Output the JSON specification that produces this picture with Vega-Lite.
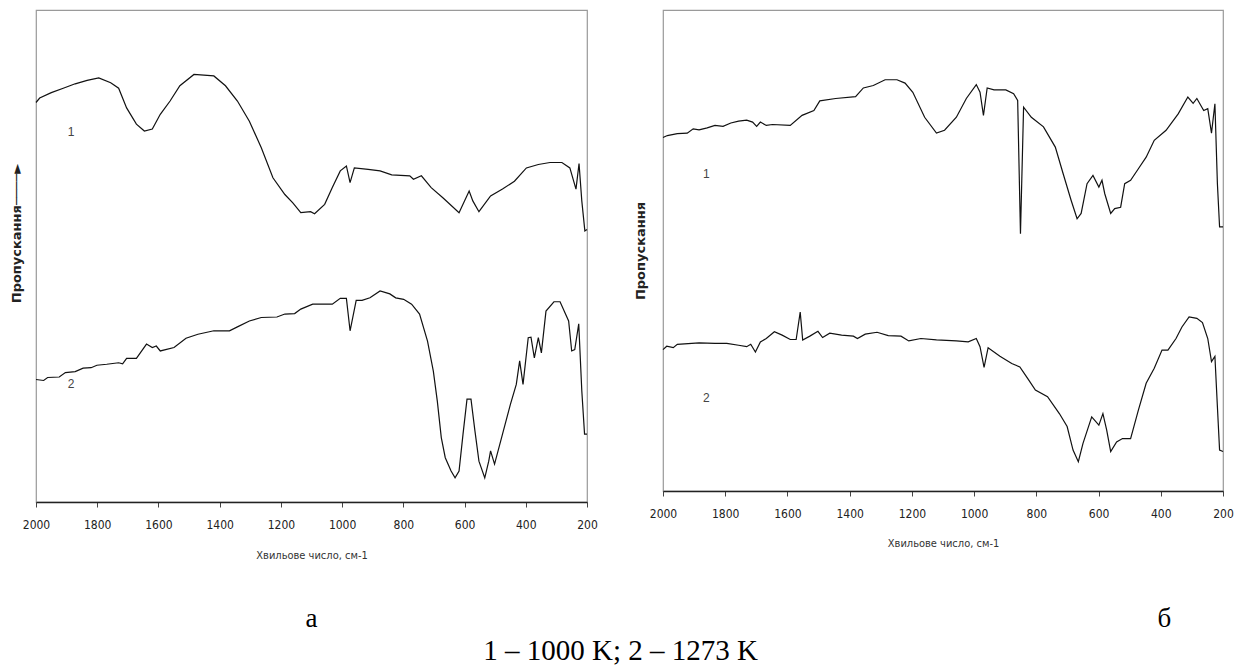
{
  "$schema": "https://vega.github.io/schema/vega-lite/v6.json",
  "background": "white",
  "padding": {"left": 9, "top": 9, "right": 10, "bottom": 2},
  "bounds": "flush",
  "spacing": 76,
  "config": {
    "view": {"stroke": "#9a9a9a", "strokeWidth": 1.2},
    "title": {"font": "Liberation Serif", "fontWeight": "normal", "color": "#000"}
  },
  "title": {"text": "1 – 1000 K; 2 – 1273 K", "orient": "bottom", "anchor": "middle", "fontSize": 29, "offset": 4, "dx": -1},
  "datasets": {
    "a": [
      {"c":"1","w":2000,"t":81.2},{"c":"1","w":1988,"t":82.1},{"c":"1","w":1950,"t":83.2},{"c":"1","w":1911,"t":84.1},{"c":"1","w":1872,"t":85.0},{"c":"1","w":1833,"t":85.7},{"c":"1","w":1795,"t":86.2},{"c":"1","w":1756,"t":85.2},{"c":"1","w":1730,"t":84.1},{"c":"1","w":1704,"t":80.1},{"c":"1","w":1672,"t":76.8},{"c":"1","w":1646,"t":75.4},{"c":"1","w":1620,"t":75.8},{"c":"1","w":1594,"t":78.8},{"c":"1","w":1562,"t":81.5},{"c":"1","w":1530,"t":84.6},{"c":"1","w":1484,"t":86.9},{"c":"1","w":1419,"t":86.6},{"c":"1","w":1381,"t":84.6},{"c":"1","w":1342,"t":81.5},{"c":"1","w":1303,"t":77.4},{"c":"1","w":1264,"t":72.0},{"c":"1","w":1226,"t":65.9},{"c":"1","w":1187,"t":62.5},{"c":"1","w":1161,"t":60.8},{"c":"1","w":1135,"t":58.8},{"c":"1","w":1103,"t":59.0},{"c":"1","w":1090,"t":58.6},{"c":"1","w":1057,"t":60.5},{"c":"1","w":1032,"t":63.9},{"c":"1","w":1006,"t":67.3},{"c":"1","w":986,"t":68.3},{"c":"1","w":974,"t":64.9},{"c":"1","w":960,"t":67.9},{"c":"1","w":915,"t":67.6},{"c":"1","w":876,"t":67.3},{"c":"1","w":838,"t":66.5},{"c":"1","w":779,"t":66.3},{"c":"1","w":767,"t":65.6},{"c":"1","w":741,"t":66.3},{"c":"1","w":709,"t":63.9},{"c":"1","w":670,"t":61.8},{"c":"1","w":618,"t":58.8},{"c":"1","w":585,"t":63.2},{"c":"1","w":573,"t":61.2},{"c":"1","w":553,"t":59.0},{"c":"1","w":515,"t":62.2},{"c":"1","w":476,"t":63.6},{"c":"1","w":437,"t":65.2},{"c":"1","w":398,"t":67.9},{"c":"1","w":359,"t":68.6},{"c":"1","w":321,"t":69.0},{"c":"1","w":282,"t":69.0},{"c":"1","w":256,"t":67.9},{"c":"1","w":236,"t":63.6},{"c":"1","w":226,"t":68.8},{"c":"1","w":217,"t":61.2},{"c":"1","w":207,"t":55.1},{"c":"1","w":200,"t":55.4},
      {"c":"2","w":2000,"t":24.9},{"c":"2","w":1975,"t":24.7},{"c":"2","w":1962,"t":25.3},{"c":"2","w":1924,"t":25.4},{"c":"2","w":1904,"t":26.3},{"c":"2","w":1872,"t":26.5},{"c":"2","w":1846,"t":27.2},{"c":"2","w":1820,"t":27.3},{"c":"2","w":1801,"t":27.8},{"c":"2","w":1769,"t":28.0},{"c":"2","w":1730,"t":28.3},{"c":"2","w":1717,"t":28.1},{"c":"2","w":1704,"t":29.2},{"c":"2","w":1672,"t":29.2},{"c":"2","w":1639,"t":32.1},{"c":"2","w":1620,"t":31.4},{"c":"2","w":1607,"t":31.7},{"c":"2","w":1594,"t":30.7},{"c":"2","w":1549,"t":31.4},{"c":"2","w":1510,"t":33.3},{"c":"2","w":1471,"t":34.1},{"c":"2","w":1419,"t":34.8},{"c":"2","w":1368,"t":34.8},{"c":"2","w":1342,"t":35.6},{"c":"2","w":1303,"t":36.8},{"c":"2","w":1264,"t":37.5},{"c":"2","w":1213,"t":37.6},{"c":"2","w":1187,"t":38.2},{"c":"2","w":1155,"t":38.3},{"c":"2","w":1135,"t":39.2},{"c":"2","w":1096,"t":40.2},{"c":"2","w":1032,"t":40.2},{"c":"2","w":1006,"t":41.4},{"c":"2","w":986,"t":41.4},{"c":"2","w":974,"t":34.8},{"c":"2","w":954,"t":41.0},{"c":"2","w":935,"t":41.0},{"c":"2","w":909,"t":41.5},{"c":"2","w":876,"t":42.9},{"c":"2","w":844,"t":42.3},{"c":"2","w":825,"t":41.5},{"c":"2","w":799,"t":41.2},{"c":"2","w":773,"t":40.2},{"c":"2","w":747,"t":38.2},{"c":"2","w":721,"t":32.7},{"c":"2","w":702,"t":26.6},{"c":"2","w":689,"t":20.5},{"c":"2","w":676,"t":13.1},{"c":"2","w":663,"t":9.0},{"c":"2","w":644,"t":6.3},{"c":"2","w":631,"t":4.9},{"c":"2","w":618,"t":6.3},{"c":"2","w":605,"t":13.8},{"c":"2","w":592,"t":20.9},{"c":"2","w":579,"t":20.9},{"c":"2","w":566,"t":14.4},{"c":"2","w":553,"t":8.3},{"c":"2","w":534,"t":4.9},{"c":"2","w":521,"t":8.3},{"c":"2","w":515,"t":10.4},{"c":"2","w":502,"t":7.7},{"c":"2","w":476,"t":13.8},{"c":"2","w":450,"t":19.9},{"c":"2","w":431,"t":23.9},{"c":"2","w":420,"t":28.7},{"c":"2","w":409,"t":23.9},{"c":"2","w":392,"t":33.4},{"c":"2","w":383,"t":33.5},{"c":"2","w":372,"t":29.3},{"c":"2","w":359,"t":33.4},{"c":"2","w":349,"t":30.3},{"c":"2","w":334,"t":38.8},{"c":"2","w":308,"t":40.7},{"c":"2","w":288,"t":40.7},{"c":"2","w":260,"t":36.8},{"c":"2","w":250,"t":30.7},{"c":"2","w":240,"t":31.0},{"c":"2","w":227,"t":36.2},{"c":"2","w":217,"t":22.6},{"c":"2","w":208,"t":13.8},{"c":"2","w":200,"t":13.8}
    ],
    "b": [
      {"c":"1","w":2000,"t":73.5},{"c":"1","w":1986,"t":73.9},{"c":"1","w":1954,"t":74.3},{"c":"1","w":1922,"t":74.4},{"c":"1","w":1903,"t":75.3},{"c":"1","w":1884,"t":75.1},{"c":"1","w":1858,"t":75.5},{"c":"1","w":1833,"t":76.0},{"c":"1","w":1807,"t":75.8},{"c":"1","w":1782,"t":76.5},{"c":"1","w":1757,"t":76.9},{"c":"1","w":1731,"t":77.1},{"c":"1","w":1712,"t":76.7},{"c":"1","w":1699,"t":75.8},{"c":"1","w":1687,"t":76.7},{"c":"1","w":1668,"t":76.0},{"c":"1","w":1648,"t":76.2},{"c":"1","w":1591,"t":76.0},{"c":"1","w":1553,"t":78.1},{"c":"1","w":1515,"t":79.1},{"c":"1","w":1496,"t":81.1},{"c":"1","w":1445,"t":81.6},{"c":"1","w":1381,"t":82.0},{"c":"1","w":1356,"t":83.8},{"c":"1","w":1324,"t":84.3},{"c":"1","w":1286,"t":85.5},{"c":"1","w":1248,"t":85.5},{"c":"1","w":1222,"t":84.8},{"c":"1","w":1197,"t":82.9},{"c":"1","w":1159,"t":77.7},{"c":"1","w":1121,"t":74.4},{"c":"1","w":1095,"t":75.0},{"c":"1","w":1057,"t":77.7},{"c":"1","w":1025,"t":81.6},{"c":"1","w":993,"t":84.5},{"c":"1","w":981,"t":82.9},{"c":"1","w":970,"t":78.1},{"c":"1","w":958,"t":83.8},{"c":"1","w":936,"t":83.4},{"c":"1","w":898,"t":83.4},{"c":"1","w":873,"t":82.6},{"c":"1","w":860,"t":81.2},{"c":"1","w":851,"t":53.5},{"c":"1","w":841,"t":79.8},{"c":"1","w":816,"t":77.7},{"c":"1","w":777,"t":75.7},{"c":"1","w":739,"t":71.5},{"c":"1","w":714,"t":66.0},{"c":"1","w":688,"t":60.4},{"c":"1","w":669,"t":56.6},{"c":"1","w":656,"t":57.7},{"c":"1","w":637,"t":63.9},{"c":"1","w":618,"t":65.6},{"c":"1","w":599,"t":63.2},{"c":"1","w":589,"t":64.6},{"c":"1","w":580,"t":61.8},{"c":"1","w":561,"t":57.7},{"c":"1","w":548,"t":58.7},{"c":"1","w":529,"t":59.0},{"c":"1","w":516,"t":63.9},{"c":"1","w":497,"t":64.6},{"c":"1","w":472,"t":67.0},{"c":"1","w":447,"t":69.4},{"c":"1","w":421,"t":72.9},{"c":"1","w":383,"t":75.0},{"c":"1","w":344,"t":78.4},{"c":"1","w":313,"t":81.9},{"c":"1","w":296,"t":80.6},{"c":"1","w":284,"t":81.6},{"c":"1","w":262,"t":79.1},{"c":"1","w":249,"t":79.5},{"c":"1","w":237,"t":74.4},{"c":"1","w":226,"t":80.5},{"c":"1","w":218,"t":63.9},{"c":"1","w":211,"t":54.9},{"c":"1","w":200,"t":54.9},
      {"c":"2","w":2000,"t":29.4},{"c":"2","w":1988,"t":30.1},{"c":"2","w":1967,"t":29.8},{"c":"2","w":1954,"t":30.5},{"c":"2","w":1884,"t":30.8},{"c":"2","w":1833,"t":30.7},{"c":"2","w":1795,"t":30.7},{"c":"2","w":1757,"t":30.3},{"c":"2","w":1731,"t":30.0},{"c":"2","w":1718,"t":30.5},{"c":"2","w":1703,"t":28.9},{"c":"2","w":1687,"t":31.0},{"c":"2","w":1668,"t":31.7},{"c":"2","w":1642,"t":33.1},{"c":"2","w":1617,"t":32.4},{"c":"2","w":1591,"t":31.5},{"c":"2","w":1572,"t":31.5},{"c":"2","w":1559,"t":37.2},{"c":"2","w":1551,"t":31.4},{"c":"2","w":1528,"t":32.2},{"c":"2","w":1502,"t":33.2},{"c":"2","w":1487,"t":31.9},{"c":"2","w":1464,"t":32.8},{"c":"2","w":1426,"t":32.4},{"c":"2","w":1388,"t":32.2},{"c":"2","w":1375,"t":31.7},{"c":"2","w":1350,"t":32.6},{"c":"2","w":1312,"t":33.0},{"c":"2","w":1276,"t":32.3},{"c":"2","w":1235,"t":32.2},{"c":"2","w":1210,"t":31.2},{"c":"2","w":1171,"t":31.7},{"c":"2","w":1121,"t":31.4},{"c":"2","w":1057,"t":31.2},{"c":"2","w":1019,"t":31.0},{"c":"2","w":993,"t":31.7},{"c":"2","w":981,"t":30.0},{"c":"2","w":968,"t":25.7},{"c":"2","w":955,"t":29.8},{"c":"2","w":917,"t":28.0},{"c":"2","w":879,"t":26.5},{"c":"2","w":853,"t":25.8},{"c":"2","w":828,"t":23.4},{"c":"2","w":803,"t":21.0},{"c":"2","w":764,"t":19.6},{"c":"2","w":726,"t":16.1},{"c":"2","w":701,"t":13.4},{"c":"2","w":682,"t":8.5},{"c":"2","w":665,"t":6.1},{"c":"2","w":650,"t":9.9},{"c":"2","w":622,"t":15.4},{"c":"2","w":599,"t":13.7},{"c":"2","w":586,"t":16.1},{"c":"2","w":574,"t":12.7},{"c":"2","w":561,"t":8.2},{"c":"2","w":542,"t":10.2},{"c":"2","w":523,"t":10.9},{"c":"2","w":497,"t":10.9},{"c":"2","w":472,"t":16.8},{"c":"2","w":447,"t":22.4},{"c":"2","w":421,"t":25.5},{"c":"2","w":396,"t":29.3},{"c":"2","w":377,"t":29.3},{"c":"2","w":351,"t":31.7},{"c":"2","w":332,"t":34.1},{"c":"2","w":309,"t":36.2},{"c":"2","w":284,"t":35.9},{"c":"2","w":266,"t":35.0},{"c":"2","w":249,"t":31.7},{"c":"2","w":237,"t":26.9},{"c":"2","w":226,"t":28.0},{"c":"2","w":218,"t":17.5},{"c":"2","w":211,"t":8.5},{"c":"2","w":200,"t":8.2}
    ],
    "la": [{"c":"1","w":1885,"t":75.3},{"c":"2","w":1885,"t":24.0}],
    "lb": [{"c":"1","w":1861,"t":66.0},{"c":"2","w":1861,"t":19.3}]
  },
  "hconcat": [
    {
      "width": 551,
      "height": 492,
      "title": {"text": "а", "orient": "bottom", "anchor": "middle", "fontSize": 27, "offset": 46},
      "layer": [
        {
          "data": {"name": "a"},
          "mark": {"type": "line", "color": "#111", "strokeWidth": 1.2, "interpolate": "linear"},
          "encoding": {
            "x": {"field": "w", "type": "quantitative",
              "scale": {"domain": [200, 2000], "reverse": true, "nice": false, "zero": false},
              "axis": {"title": "Хвильове число, см-1", "values": [2000,1800,1600,1400,1200,1000,800,600,400,200], "format": "d", "grid": false,
                "domainColor": "#222", "domainWidth": 1.5, "tickColor": "#444", "tickSize": 5,
                "labelFont": "Liberation Sans Narrow, DejaVu Sans Condensed, sans-serif", "labelFontSize": 12, "labelColor": "#222", "labelPadding": 12, "labelFlush": false, "labelOverlap": false,
                "titleFont": "Liberation Sans Narrow, DejaVu Sans Condensed, sans-serif", "titleFontSize": 11, "titleFontWeight": "normal", "titleColor": "#333", "titlePadding": 19}},
            "y": {"field": "t", "type": "quantitative",
              "scale": {"domain": [0, 100], "nice": false, "zero": false},
              "axis": {"title": "Пропускання────►", "labels": false, "ticks": false, "domain": false, "grid": false,
                "titleFont": "DejaVu Sans", "titleFontSize": 13, "titleFontWeight": "bold", "titleColor": "#222", "titlePadding": 13, "titleY": 223}},
            "detail": {"field": "c"}
          }
        },
        {
          "data": {"name": "la"},
          "mark": {"type": "text", "font": "Liberation Sans", "fontSize": 12, "color": "#444", "align": "center", "baseline": "middle"},
          "encoding": {
            "x": {"field": "w", "type": "quantitative", "title": "Хвильове число, см-1"},
            "y": {"field": "t", "type": "quantitative", "title": "Пропускання────►"},
            "text": {"field": "c"}
          }
        }
      ]
    },
    {
      "width": 560,
      "height": 481,
      "title": {"text": "б", "orient": "bottom", "anchor": "end", "fontSize": 27, "offset": 58, "dx": -62},
      "layer": [
        {
          "data": {"name": "b"},
          "mark": {"type": "line", "color": "#111", "strokeWidth": 1.2, "interpolate": "linear"},
          "encoding": {
            "x": {"field": "w", "type": "quantitative",
              "scale": {"domain": [200, 2000], "reverse": true, "nice": false, "zero": false},
              "axis": {"title": "Хвильове число, см-1", "values": [2000,1800,1600,1400,1200,1000,800,600,400,200], "format": "d", "grid": false,
                "domainColor": "#222", "domainWidth": 1.5, "tickColor": "#444", "tickSize": 5,
                "labelFont": "Liberation Sans Narrow, DejaVu Sans Condensed, sans-serif", "labelFontSize": 12, "labelColor": "#222", "labelPadding": 12, "labelFlush": false, "labelOverlap": false,
                "titleFont": "Liberation Sans Narrow, DejaVu Sans Condensed, sans-serif", "titleFontSize": 11, "titleFontWeight": "normal", "titleColor": "#333", "titlePadding": 18}},
            "y": {"field": "t", "type": "quantitative",
              "scale": {"domain": [0, 100], "nice": false, "zero": false},
              "axis": {"title": "Пропускання", "labels": false, "ticks": false, "domain": false, "grid": false,
                "titleFont": "DejaVu Sans", "titleFontSize": 13, "titleFontWeight": "bold", "titleColor": "#222", "titlePadding": 16}},
            "detail": {"field": "c"}
          }
        },
        {
          "data": {"name": "lb"},
          "mark": {"type": "text", "font": "Liberation Sans", "fontSize": 12, "color": "#444", "align": "center", "baseline": "middle"},
          "encoding": {
            "x": {"field": "w", "type": "quantitative", "title": "Хвильове число, см-1"},
            "y": {"field": "t", "type": "quantitative", "title": "Пропускання"},
            "text": {"field": "c"}
          }
        }
      ]
    }
  ]
}
